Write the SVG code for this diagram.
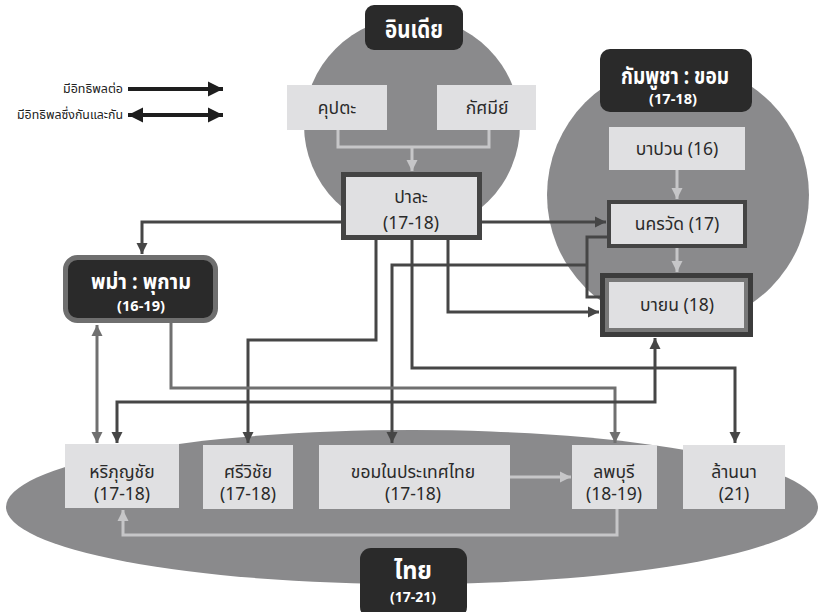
<svg xmlns="http://www.w3.org/2000/svg" width="819" height="612" viewBox="0 0 819 612">
<style>
text{font-family:"Noto Sans Thai","Noto Sans","DejaVu Sans",sans-serif;text-anchor:middle;}
.bg{fill:#8a8a8c;}
.box{fill:#e0e0e2;}
.lbl{fill:#2a2a2a;}
.t{font-size:17.5px;fill:#2a2a2a;}
.w{fill:#ffffff;font-weight:bold;}
.c{fill:none;stroke-linejoin:miter;}
.dk{stroke:#464646;stroke-width:3;}
.md{stroke:#707070;stroke-width:3;}
.lt{stroke:#c6c6c8;stroke-width:3;}
.lg{stroke:#1e1e1e;stroke-width:4;}
.leg{font-size:12.5px;fill:#222;text-anchor:end;}
</style>
<defs>
<marker id="ad" markerWidth="12" markerHeight="12" refX="11" refY="6" orient="auto-start-reverse" markerUnits="userSpaceOnUse"><path d="M0,0.5 L11,6 L0,11.5 z" fill="#464646"/></marker>
<marker id="am" markerWidth="12" markerHeight="12" refX="11" refY="6" orient="auto-start-reverse" markerUnits="userSpaceOnUse"><path d="M0,0.5 L11,6 L0,11.5 z" fill="#707070"/></marker>
<marker id="al" markerWidth="12" markerHeight="12" refX="11" refY="6" orient="auto-start-reverse" markerUnits="userSpaceOnUse"><path d="M0,0.5 L11,6 L0,11.5 z" fill="#c6c6c8"/></marker>
<marker id="ag" markerWidth="16" markerHeight="16" refX="15" refY="8" orient="auto-start-reverse" markerUnits="userSpaceOnUse"><path d="M0,0.5 L15,8 L0,15.5 z" fill="#1e1e1e"/></marker>
</defs>

<!-- background regions -->
<circle class="bg" cx="412" cy="125" r="108"/>
<circle class="bg" cx="678" cy="195" r="131"/>
<ellipse class="bg" cx="412" cy="507" rx="406" ry="77"/>

<!-- legend -->
<g id="legend">
<text class="leg" x="123" y="93" textLength="60" lengthAdjust="spacingAndGlyphs">มีอิทธิพลต่อ</text>
<path class="c lg" d="M128,89 H223" marker-end="url(#ag)"/>
<text class="leg" x="123" y="119" textLength="106" lengthAdjust="spacingAndGlyphs">มีอิทธิพลซึ่งกันและกัน</text>
<path class="c lg" d="M128,115 H223" marker-start="url(#ag)" marker-end="url(#ag)"/>
</g>

<!-- connectors -->
<g id="connectors">
<path class="c lt" d="M338,130 V147 H489 V130"/>
<path class="c lt" d="M412,147 V171" marker-end="url(#al)"/>
<path class="c dk" d="M341,222 H142 V254" marker-end="url(#ad)"/>
<path class="c dk" d="M482,222 H606" marker-end="url(#ad)"/>
<path class="c dk" d="M376,240 V340 H248 V443" marker-end="url(#ad)"/>
<path class="c dk" d="M412,240 V368 H735 V443" marker-end="url(#ad)"/>
<path class="c dk" d="M448,240 V312 H599" marker-end="url(#ad)"/>
<path class="c dk" d="M607,237 H587 V297 H601"/>
<path class="c dk" d="M587,265 H392 V443" marker-end="url(#ad)"/>
<path class="c md" d="M97,325 V443" marker-start="url(#am)" marker-end="url(#am)"/>
<path class="c md" d="M171,323 V388 H615 V443" marker-end="url(#am)"/>
<path class="c dk" d="M655,338 V402 H117 V443" marker-start="url(#ad)" marker-end="url(#ad)"/>
<path class="c lt" d="M677,170 V199" marker-end="url(#al)"/>
<path class="c lt" d="M677,248 V272" marker-end="url(#al)"/>
<path class="c lt" d="M510,477 H571" marker-end="url(#al)"/>
<path class="c lt" d="M617,509 V535 H123 V510" marker-end="url(#al)"/>
</g>

<!-- India -->
<g id="india">
<rect class="lbl" x="365" y="5" width="98" height="45" rx="9"/>
<text class="w" x="414" y="38" font-size="25" textLength="58" lengthAdjust="spacingAndGlyphs">อินเดีย</text>
</g>
<g id="kupta">
<rect class="box" x="287" y="85" width="100" height="45"/>
<text class="t" x="337" y="114">คุปตะ</text>
</g>
<g id="kasmir">
<rect class="box" x="437" y="85" width="99" height="45"/>
<text class="t" x="487" y="114">กัศมีย์</text>
</g>
<g id="pala">
<rect x="343.5" y="174.5" width="136" height="63" fill="#e0e0e2" stroke="#444" stroke-width="5"/>
<text class="t" x="411" y="203">ปาละ</text>
<text class="t" x="411" y="229">(17-18)</text>
</g>

<!-- Cambodia -->
<g id="cambodia">
<rect class="lbl" x="600" y="49" width="152" height="63" rx="10"/>
<text class="w" x="675" y="84" font-size="23" textLength="108" lengthAdjust="spacingAndGlyphs">กัมพูชา : ขอม</text>
<text class="w" x="673" y="104" font-size="15" textLength="48" lengthAdjust="spacingAndGlyphs">(17-18)</text>
</g>
<g id="baphuon">
<rect class="box" x="609" y="127" width="136" height="43"/>
<text class="t" x="677" y="155">บาปวน (16)</text>
</g>
<g id="angkorwat">
<rect x="609" y="202" width="136" height="44" fill="#e0e0e2" stroke="#444" stroke-width="4"/>
<text class="t" x="677" y="230">นครวัด (17)</text>
</g>
<g id="bayon">
<rect x="602.5" y="275.5" width="148" height="59" fill="#787878" stroke="#3c3c3c" stroke-width="5"/>
<rect x="609" y="282" width="135" height="46" fill="#e0e0e2"/>
<text class="t" x="677" y="311">บายน (18)</text>
</g>

<!-- Burma -->
<g id="pagan">
<rect x="65.5" y="257.5" width="150" height="63" rx="12" fill="#2a2a2a" stroke="#6f6f6f" stroke-width="5"/>
<text class="w" x="141" y="289" font-size="22" textLength="100" lengthAdjust="spacingAndGlyphs">พม่า : พุกาม</text>
<text class="w" x="141" y="311" font-size="15" textLength="48" lengthAdjust="spacingAndGlyphs">(16-19)</text>
</g>

<!-- Thai -->
<g id="haripunchai">
<rect class="box" x="65" y="444" width="114" height="64"/>
<text class="t" x="122" y="478">หริภุญชัย</text>
<text class="t" x="122" y="500">(17-18)</text>
</g>
<g id="srivijaya">
<rect class="box" x="203" y="445" width="90" height="64"/>
<text class="t" x="248" y="478">ศรีวิชัย</text>
<text class="t" x="248" y="500">(17-18)</text>
</g>
<g id="khmer-thai">
<rect class="box" x="319" y="445" width="191" height="64"/>
<text class="t" x="413" y="478">ขอมในประเทศไทย</text>
<text class="t" x="413" y="500">(17-18)</text>
</g>
<g id="lopburi">
<rect class="box" x="572" y="445" width="85" height="64"/>
<text class="t" x="614" y="478">ลพบุรี</text>
<text class="t" x="614" y="500">(18-19)</text>
</g>
<g id="lanna">
<rect class="box" x="683" y="445" width="102" height="64"/>
<text class="t" x="734" y="478">ล้านนา</text>
<text class="t" x="734" y="500">(21)</text>
</g>
<g id="thai">
<rect class="lbl" x="360" y="548" width="107" height="70" rx="11"/>
<text class="w" x="413" y="579" font-size="25" textLength="38" lengthAdjust="spacingAndGlyphs">ไทย</text>
<text class="w" x="413" y="602" font-size="15" textLength="46" lengthAdjust="spacingAndGlyphs">(17-21)</text>
</g>
</svg>
